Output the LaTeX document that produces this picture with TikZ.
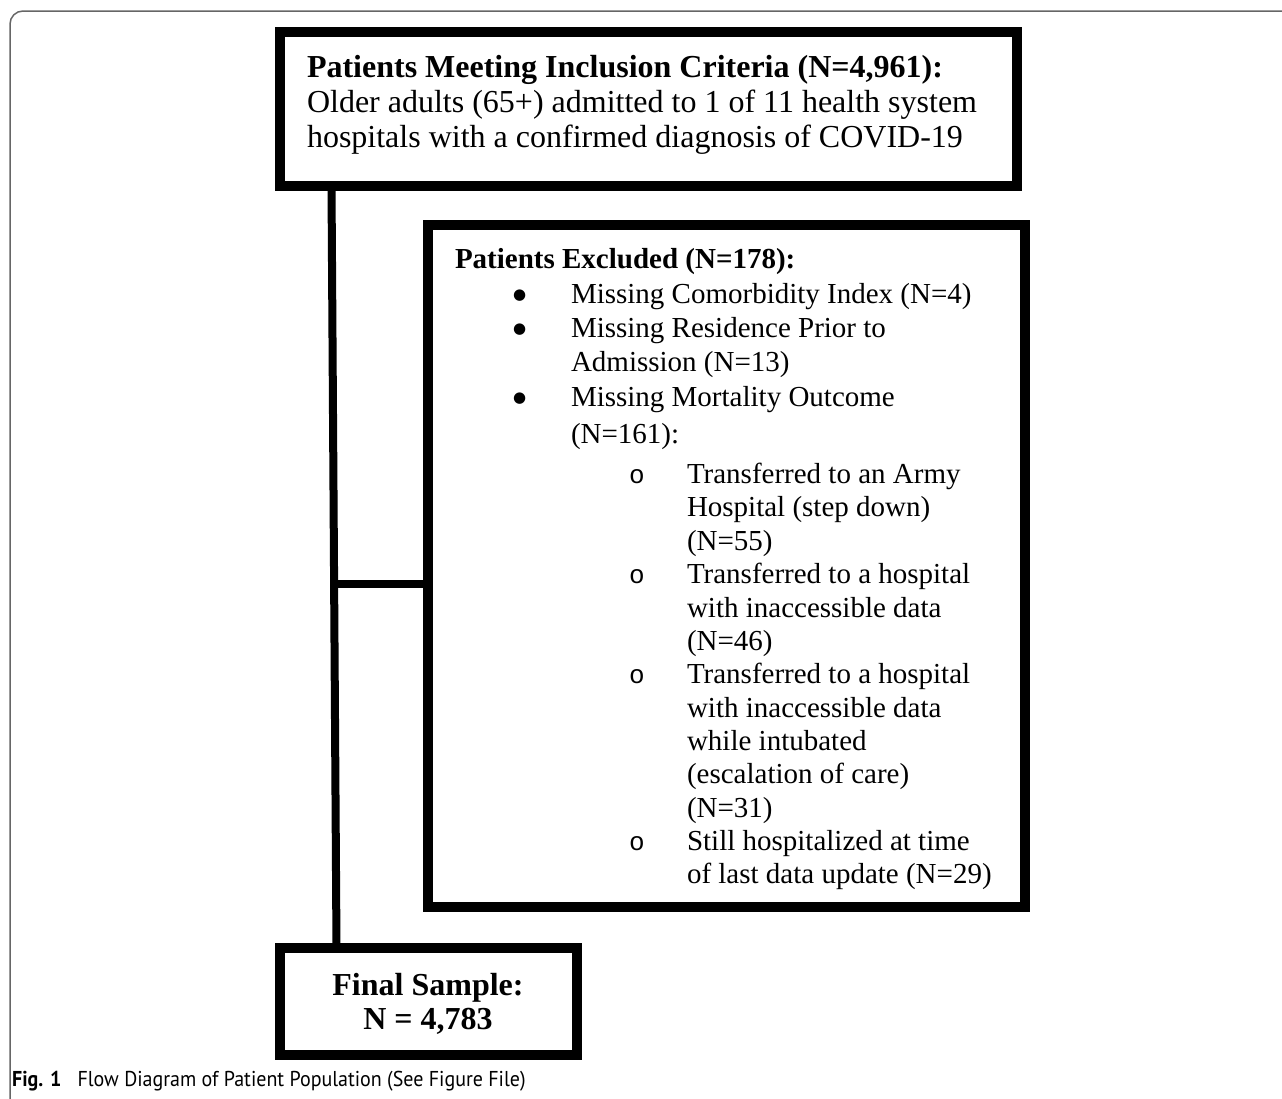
\documentclass[tikz,border=0pt]{standalone}
\usepackage{fontspec}
\setmainfont{Liberation Serif}
\newfontfamily\capfont[FakeStretch=0.93]{PT Sans}
\newfontfamily\obullet{Liberation Mono}
\newfontfamily\dvsans{DejaVu Sans}
\begin{document}
\begin{tikzpicture}[x=1pt,y=-1pt,
  box/.style={draw=black, line width=10pt, inner sep=0pt, outer sep=0pt, anchor=north west},
  conn/.style={draw=black, line width=8pt},
  txt/.style={inner sep=0pt, outer sep=0pt, anchor=north west, align=left},
  frame/.style={draw=black!60, line width=1.5pt, rounded corners=13pt}
]
\useasboundingbox (0,0) rectangle (1282,1098);
\draw[frame] (10,1110) -- (10,11) -- (1295,11);

% boxes
\node[box, minimum width=737pt, minimum height=154pt] (top) at (280,32) {};
\node[box, minimum width=597pt, minimum height=682pt] (excl) at (428,225) {};
\node[box, minimum width=297pt, minimum height=107pt] (final) at (280,948) {};

% texts
\node[txt, font=\fontsize{32}{35}\selectfont] (toptext) at (307,52)
  {\rule{0pt}{25pt}{\bfseries Patients Meeting Inclusion Criteria (N=4,961):}\\
   Older adults (65+) admitted to 1 of 11 health system\\
   hospitals with a confirmed diagnosis of COVID-19};

\newcommand{\bul}[1]{\hspace*{58pt}\makebox[58pt][l]{\raisebox{4.5pt}{\dvsans\fontsize{15}{15}\selectfont ●}}#1}
\newcommand{\cont}[1]{\hspace*{116pt}#1}
\newcommand{\sbul}[1]{\hspace*{174pt}\makebox[58pt][l]{\obullet\fontsize{26}{26}\selectfont o}#1}
\newcommand{\scont}[1]{\hspace*{232pt}#1}

\node[txt, font=\fontsize{29}{33.35}\selectfont] (excltext) at (455,244)
  {\rule{0pt}{24pt}{\bfseries Patients Excluded (N=178):}\\[2.5pt]
   \bul{Missing Comorbidity Index (N=4)}\\[0.6pt]
   \bul{Missing Residence Prior to}\\[0.6pt]
   \cont{Admission (N=13)}\\[1.6pt]
   \bul{Missing Mortality Outcome}\\[3.6pt]
   \cont{(N=161):}\\[6.6pt]
   \sbul{Transferred to an Army}\\
   \scont{Hospital (step down)}\\
   \scont{(N=55)}\\
   \sbul{Transferred to a hospital}\\
   \scont{with inaccessible data}\\
   \scont{(N=46)}\\
   \sbul{Transferred to a hospital}\\
   \scont{with inaccessible data}\\
   \scont{while intubated}\\
   \scont{(escalation of care)}\\
   \scont{(N=31)}\\
   \sbul{Still hospitalized at time}\\
   \scont{of last data update (N=29)}};

\node[inner sep=0pt, anchor=north, align=center, font=\fontsize{32}{34}\selectfont\bfseries] (finaltext) at (428,970)
  {\rule{0pt}{25pt}Final Sample:\\ N = 4,783};

\node[inner sep=0pt, anchor=base west, font=\capfont\fontsize{21.5}{24}\selectfont] (caption) at (12,1086)
  {{\bfseries Fig. 1}\hspace{0.5em} Flow Diagram of Patient Population (See Figure File)};

% connectors
\path (331.5,0) coordinate (vx1) (336.5,0) coordinate (vx2);
\draw[conn] (top.south -| vx1) -- (final.north -| vx2);
\draw[conn] (334.2,583.5) coordinate (junc) -- (junc -| excl.west);
\end{tikzpicture}
\end{document}
